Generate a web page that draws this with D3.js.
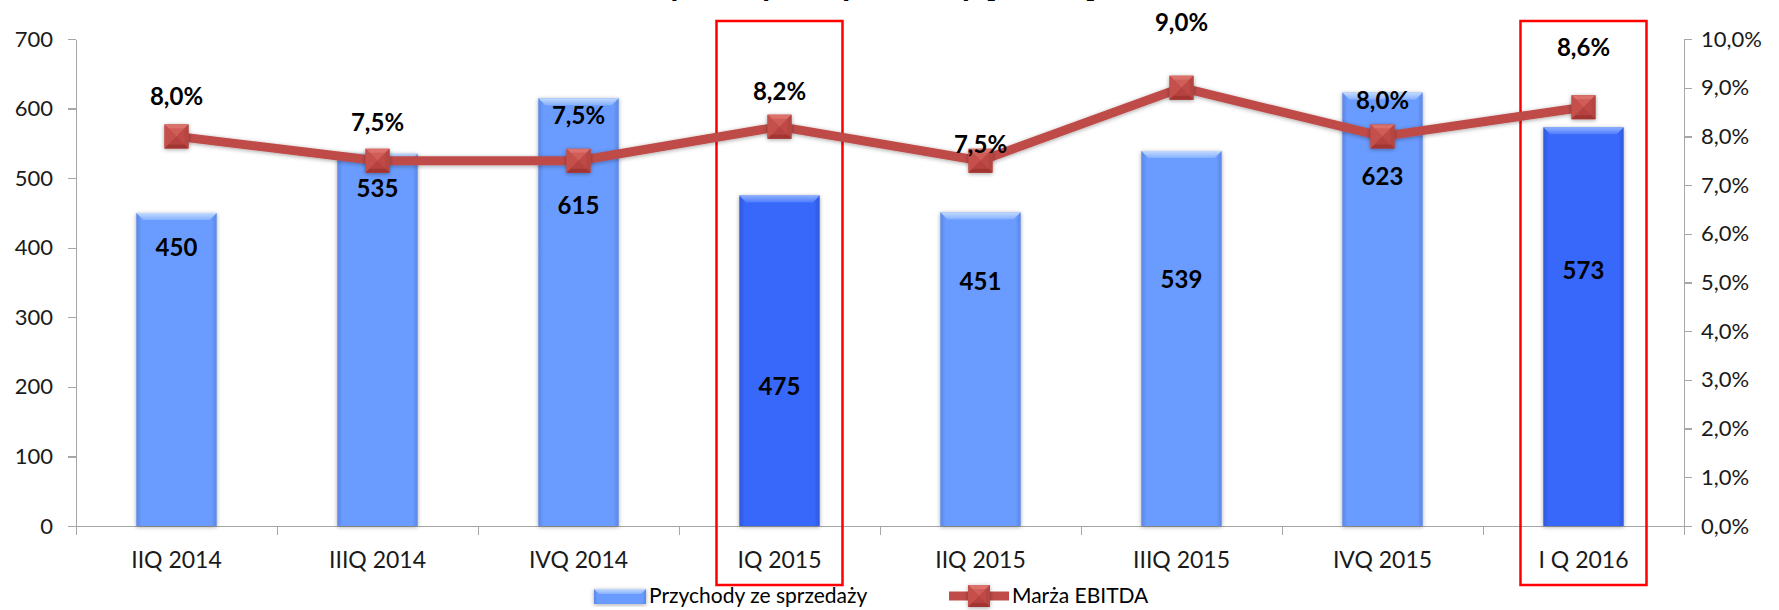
<!DOCTYPE html>
<html lang="pl">
<head>
  <meta charset="UTF-8">
  <title>Przychody ze sprzedaży i marża EBITDA</title>
  <style>
    body { margin: 0; background: #fff; font-family: Lato, "Open Sans", sans-serif; }
    .axis path, .axis line { stroke: #a6a6a6; stroke-width: 1.3; shape-rendering: crispEdges; }
    .axis text { font-family: Lato, sans-serif; font-size: 22px; fill: #1a1a1a; }
    .xlab text { font-size: 23px; }
    .lbl { font-family: Lato, sans-serif; font-weight: bold; font-size: 24px; fill: #000; }
  </style>
  <script src="https://d3js.org/d3.v7.min.js"></script>
</head>
<body>
  <svg id="chart" width="1779" height="610"></svg>
  <script>
    // data
    const categories = ["IIQ 2014", "IIIQ 2014", "IVQ 2014", "IQ 2015", "IIQ 2015", "IIIQ 2015", "IVQ 2015", "I Q 2016"];
    const revenue = [450, 535, 615, 475, 451, 539, 623, 573];
    const ebitdaMargin = [0.080, 0.075, 0.075, 0.082, 0.075, 0.090, 0.080, 0.086];
    const highlighted = ["IQ 2015", "I Q 2016"];
    const leftTicks = [0, 100, 200, 300, 400, 500, 600, 700];
    const rightTicks = [0, 0.01, 0.02, 0.03, 0.04, 0.05, 0.06, 0.07, 0.08, 0.09, 0.10];
    // where Excel put the data labels (in axis units)
    const revenueLabelAt = [401, 486, 461, 201, 352, 354, 502, 368];
    const marginLabelAt = [0.0883, 0.0828, 0.0844, 0.0893, 0.0784, 0.1035, 0.0875, 0.0982];
    const titleText = "Przychody ze sprzedaży [mln zł]";
    const legendNames = ["Przychody ze sprzedaży", "Marża EBITDA"];

    const width = 1779, height = 610;
    const plot = {left: 76, right: 1684, top: 39, bottom: 526};

    const pl = d3.formatLocale({decimal: ",", thousands: " ", grouping: [3], currency: ["", " zł"]});
    const pct = pl.format(".1%");

    const svg = d3.select("#chart");
    const defs = svg.append("defs");

    function hGrad(id, edge, mid) {
      const g = defs.append("linearGradient").attr("id", id).attr("x1", 0).attr("x2", 1).attr("y1", 0).attr("y2", 0);
      [[0, edge], [0.07, mid], [0.93, mid], [1, edge]].forEach(s =>
        g.append("stop").attr("offset", s[0]).attr("stop-color", s[1]));
    }
    function vGrad(id, a, b) {
      const g = defs.append("linearGradient").attr("id", id).attr("x1", 0).attr("x2", 0).attr("y1", 0).attr("y2", 1);
      g.append("stop").attr("offset", 0).attr("stop-color", a);
      g.append("stop").attr("offset", 1).attr("stop-color", b);
    }
    hGrad("barLight", "#5a86e6", "#6b9cff");
    hGrad("barDark", "#2d58e0", "#3867fa");
    vGrad("bevLight", "#c4dbff", "#86b0ff");
    vGrad("bevDark", "#8fb0ff", "#4d7cff");

    const sh = defs.append("filter").attr("id", "shadow").attr("x", "-20%").attr("y", "-20%").attr("width", "140%").attr("height", "140%");
    sh.append("feDropShadow").attr("dx", 0).attr("dy", 1).attr("stdDeviation", 2.2)
      .attr("flood-color", "#000").attr("flood-opacity", 0.35);

    const x = d3.scaleBand().domain(categories).range([plot.left, plot.right])
      .paddingInner(0.6).paddingOuter(0.3);
    const xEdges = d3.scaleLinear().domain([0, categories.length]).range([plot.left, plot.right]);
    const y = d3.scaleLinear().domain([0, 700]).range([plot.bottom, plot.top]);
    const y2 = d3.scaleLinear().domain([0, 0.10]).range([plot.bottom, plot.top]);
    const cx = c => x(c) + x.bandwidth() / 2;

    // title, mostly above the visible area (as in the source image)
    svg.append("text")
      .attr("x", 858).attr("y", -5)
      .attr("text-anchor", "middle")
      .attr("font-weight", "bold").attr("font-size", 34)
      .text(titleText);

    // axes
    svg.append("g").attr("class", "axis")
      .attr("transform", `translate(${plot.left},0)`)
      .call(d3.axisLeft(y).tickValues(leftTicks).tickSize(8).tickPadding(15).tickSizeOuter(0));

    svg.append("g").attr("class", "axis")
      .attr("transform", `translate(${plot.right},0)`)
      .call(d3.axisRight(y2).tickValues(rightTicks).tickFormat(pct).tickSize(8).tickPadding(9).tickSizeOuter(0));

    svg.append("g").attr("class", "axis")
      .attr("transform", `translate(0,${plot.bottom})`)
      .call(d3.axisBottom(xEdges).ticks(categories.length).tickFormat("").tickSize(9).tickSizeOuter(0));

    svg.append("g").attr("class", "axis xlab")
      .attr("transform", `translate(0,${plot.bottom})`)
      .call(d3.axisBottom(x).tickSize(0).tickPadding(26))
      .call(g => g.select(".domain").remove());

    // bars
    const bars = svg.append("g").selectAll("g")
      .data(categories.map((c, i) => ({c, v: revenue[i], hi: highlighted.includes(c)})))
      .join("g").attr("filter", "url(#shadow)");

    bars.append("rect")
      .attr("x", d => x(d.c)).attr("width", x.bandwidth())
      .attr("y", d => y(d.v)).attr("height", d => y(0) - y(d.v))
      .attr("fill", d => d.hi ? "url(#barDark)" : "url(#barLight)");

    const bev = 7;
    bars.append("path")
      .attr("d", d => {
        const x0 = x(d.c), x1 = x0 + x.bandwidth(), t = y(d.v);
        return `M${x0},${t}L${x1},${t}L${x1 - bev},${t + bev}L${x0 + bev},${t + bev}Z`;
      })
      .attr("fill", d => d.hi ? "url(#bevDark)" : "url(#bevLight)");

    // red highlight boxes
    svg.append("g").selectAll("rect")
      .data(highlighted)
      .join("rect")
      .attr("x", d => cx(d) - 63).attr("width", 126)
      .attr("y", 21).attr("height", 564)
      .attr("fill", "none").attr("stroke", "#ff0000").attr("stroke-width", 2.5);

    // EBITDA line
    const line = d3.line().x((d, i) => cx(categories[i])).y(d => y2(d));
    svg.append("path")
      .datum(ebitdaMargin)
      .attr("d", line)
      .attr("fill", "none").attr("stroke", "#bf4c49").attr("stroke-width", 9)
      .attr("stroke-linejoin", "round")
      .attr("filter", "url(#shadow)");

    function marker(g, px, py, s) {
      const h = s / 2;
      const m = g.append("g").attr("transform", `translate(${px},${py})`).attr("filter", "url(#shadow)");
      m.append("rect").attr("x", -h).attr("y", -h).attr("width", s).attr("height", s).attr("fill", "#b8403d");
      m.append("path").attr("d", `M${-h},${-h}L${h},${-h}L0,0Z`).attr("fill", "#dc6f6a");
      m.append("path").attr("d", `M${-h},${-h}L0,0L${-h},${h}Z`).attr("fill", "#c4504c");
      m.append("path").attr("d", `M${h},${-h}L0,0L${h},${h}Z`).attr("fill", "#b54541");
      m.append("path").attr("d", `M${-h},${h}L0,0L${h},${h}Z`).attr("fill", "#a23633");
      m.append("rect").attr("x", -h + 4).attr("y", -h + 4).attr("width", s - 8).attr("height", s - 8)
        .attr("fill", "#c44f4b").attr("opacity", 0.55);
    }
    const markers = svg.append("g");
    ebitdaMargin.forEach((v, i) => marker(markers, cx(categories[i]), y2(v), 24));

    // data labels
    svg.append("g").selectAll("text")
      .data(revenue)
      .join("text").attr("class", "lbl")
      .attr("x", (d, i) => cx(categories[i]))
      .attr("y", (d, i) => y(revenueLabelAt[i]))
      .attr("dy", "0.36em").attr("text-anchor", "middle")
      .text(d => d);

    svg.append("g").selectAll("text")
      .data(ebitdaMargin)
      .join("text").attr("class", "lbl")
      .attr("x", (d, i) => cx(categories[i]))
      .attr("y", (d, i) => y2(marginLabelAt[i]))
      .attr("dy", "0.36em").attr("text-anchor", "middle")
      .text(d => pct(d));

    // legend
    const lg = svg.append("g").attr("transform", "translate(0,596)");
    const sw = lg.append("g").attr("filter", "url(#shadow)");
    sw.append("rect").attr("x", 594).attr("y", -7).attr("width", 52).attr("height", 15).attr("fill", "url(#barLight)");
    sw.append("path").attr("d", "M594,-7L646,-7L641,-2L599,-2Z").attr("fill", "url(#bevLight)");
    lg.append("text").attr("x", 649).attr("y", 0).attr("dy", "0.35em")
      .attr("font-size", 21).text(legendNames[0]);

    lg.append("line").attr("x1", 949).attr("x2", 1009).attr("y1", 0).attr("y2", 0)
      .attr("stroke", "#bf4c49").attr("stroke-width", 9);
    marker(lg, 979, 0, 22);
    lg.append("text").attr("x", 1012).attr("y", 0).attr("dy", "0.35em")
      .attr("font-size", 21).text(legendNames[1]);
  </script>
</body>
</html>
